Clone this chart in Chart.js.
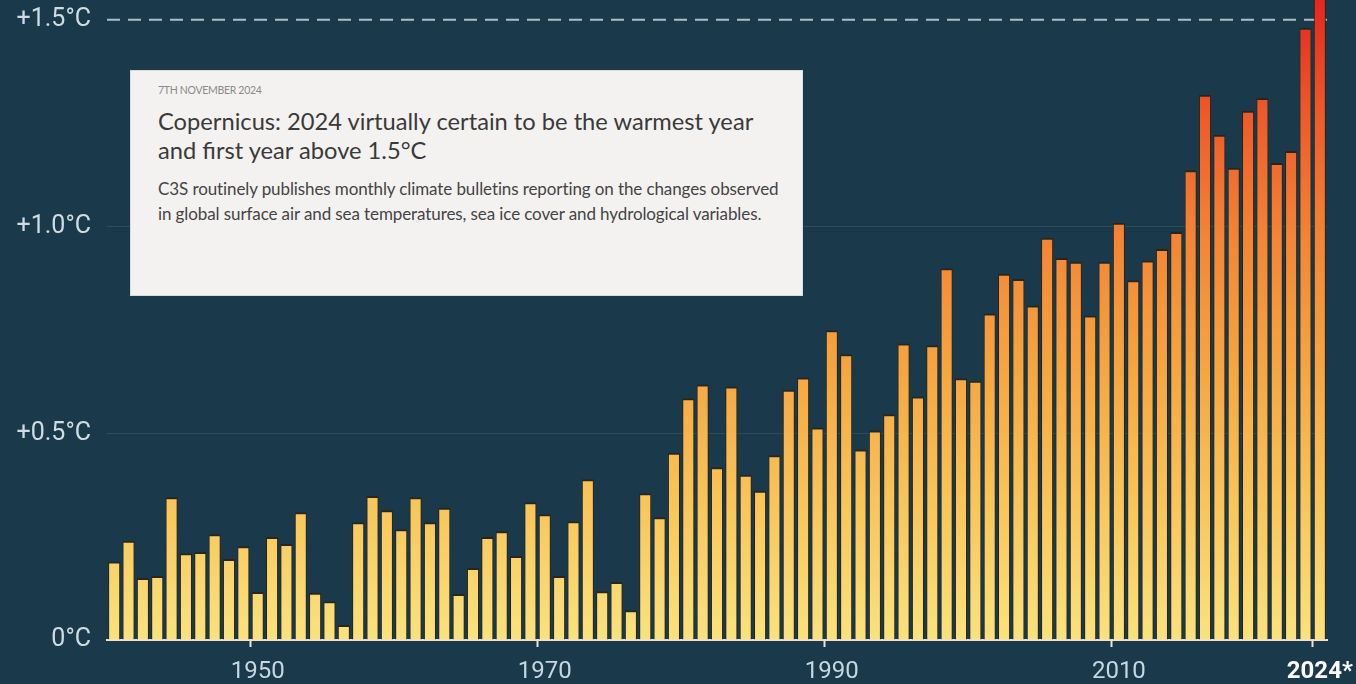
<!DOCTYPE html>
<html>
<head>
<meta charset="utf-8">
<script src="https://cdn.jsdelivr.net/npm/chart.js@4"></script>
<style>
  html, body { margin: 0; padding: 0; background: #1a3a4c; }
  #wrap { position: relative; width: 1356px; height: 684px; overflow: hidden; }
  #card {
    position: absolute; left: 130px; top: 70px; width: 673px; height: 226px;
    box-sizing: border-box; background: #f4f2f1; border: 1px solid #d9d9d9;
    font-family: Lato, "Open Sans", sans-serif; color: #3b3b3b;
    padding: 13px 0 0 27px;
  }
  #card .date { font-size: 10.5px; color: #8a8a8a; letter-spacing: -0.3px; }
  #card h1 { margin: 11px 0 0 0; font-weight: 400; font-size: 23.7px; line-height: 29px; color: #3a3a3a; }
  #card p { margin: 11px 0 0 0; font-size: 17px; line-height: 25px; color: #444; letter-spacing: -0.1px; }
</style>
</head>
<body>
<div id="wrap">
  <canvas id="chart" width="1356" height="684"></canvas>
  <div id="card">
    <div class="date">7TH NOVEMBER 2024</div>
    <h1>Copernicus: 2024 virtually certain to be the warmest year<br>and first year above 1.5°C</h1>
    <p>C3S routinely publishes monthly climate bulletins reporting on the changes observed<br>in global surface air and sea temperatures, sea ice cover and hydrological variables.</p>
  </div>
</div>
<script>
const years = [
  '1940','1941','1942','1943','1944','1945','1946','1947','1948','1949',
  '1950','1951','1952','1953','1954','1955','1956','1957','1958','1959',
  '1960','1961','1962','1963','1964','1965','1966','1967','1968','1969',
  '1970','1971','1972','1973','1974','1975','1976','1977','1978','1979',
  '1980','1981','1982','1983','1984','1985','1986','1987','1988','1989',
  '1990','1991','1992','1993','1994','1995','1996','1997','1998','1999',
  '2000','2001','2002','2003','2004','2005','2006','2007','2008','2009',
  '2010','2011','2012','2013','2014','2015','2016','2017','2018','2019',
  '2020','2021','2022','2023','2024'
];

// anomaly in °C
const anomaly = [
  0.19, 0.24, 0.15, 0.155, 0.345, 0.21, 0.213, 0.256, 0.196, 0.227,
  0.116, 0.249, 0.232, 0.309, 0.114, 0.094, 0.036, 0.285, 0.348, 0.314,
  0.268, 0.345, 0.285, 0.32, 0.111, 0.174, 0.249, 0.263, 0.203, 0.333,
  0.304, 0.155, 0.287, 0.389, 0.118, 0.14, 0.072, 0.355, 0.297, 0.453,
  0.585, 0.618, 0.418, 0.613, 0.4, 0.361, 0.447, 0.605, 0.635, 0.514,
  0.749, 0.691, 0.461, 0.507, 0.546, 0.717, 0.589, 0.713, 0.899, 0.633,
  0.627, 0.79, 0.886, 0.873, 0.809, 0.973, 0.924, 0.915, 0.785, 0.915,
  1.009, 0.87, 0.918, 0.946, 0.987, 1.136, 1.319, 1.222, 1.142, 1.28,
  1.311, 1.154, 1.183, 1.481, 1.60
];

const tickYears = ['1950', '1970', '1990', '2010', '2024'];
const tickText = ['1950', '1970', '1990', '2010', '2024*'];

const yTicks = [0, 0.5, 1.0, 1.5];
const yTickText = ['0°C', '+0.5°C', '+1.0°C', '+1.5°C'];

const limitLine = 1.5;

let barGradient = null;
function getGradient(chart) {
  const area = chart.chartArea;
  if (!area || !isFinite(area.top) || !isFinite(area.bottom)) return '#f6a040';
  if (barGradient) return barGradient;
  const g = chart.ctx.createLinearGradient(0, area.bottom, 0, area.top);
  g.addColorStop(0, '#fbe27c');
  g.addColorStop(0.22, '#f9c458');
  g.addColorStop(0.42, '#f6a640');
  g.addColorStop(0.62, '#f48634');
  g.addColorStop(0.82, '#ef5a28');
  g.addColorStop(1, '#e4281c');
  barGradient = g;
  return g;
}

const dashedLimit = {
  id: 'dashedLimit',
  beforeDatasetsDraw(chart) {
    const { ctx, chartArea, scales } = chart;
    const yPx = scales.y.getPixelForValue(limitLine);
    ctx.save();
    ctx.strokeStyle = '#b0bec5';
    ctx.lineWidth = 2;
    ctx.setLineDash([13, 8]);
    ctx.beginPath();
    ctx.moveTo(chartArea.left, yPx);
    ctx.lineTo(chartArea.right, yPx);
    ctx.stroke();
    ctx.restore();
  }
};

new Chart(document.getElementById('chart'), {
  type: 'bar',
  data: {
    labels: years,
    datasets: [{
      data: anomaly,
      backgroundColor: (ctx) => getGradient(ctx.chart),
      borderColor: '#2b2519',
      borderWidth: { top: 2, left: 1, right: 1, bottom: 0 },
      borderSkipped: 'bottom',
      barPercentage: 0.84,
      categoryPercentage: 1.0
    }]
  },
  plugins: [dashedLimit],
  options: {
    responsive: false,
    animation: false,
    layout: { padding: { top: 0, right: 29, bottom: 0, left: 0 } },
    plugins: {
      legend: { display: false },
      tooltip: { enabled: false }
    },
    scales: {
      x: {
        offset: true,
        border: { display: true, color: '#ece3cf', width: 2 },
        grid: {
          drawOnChartArea: false,
          drawTicks: true,
          tickLength: 7,
          tickWidth: 2,
          tickColor: (ctx) => tickYears.includes(years[ctx.index]) ? '#ece3cf' : 'rgba(0,0,0,0)'
        },
        ticks: {
          autoSkip: false,
          maxRotation: 0,
          padding: 11,
          font: (ctx) => ({
            family: 'Roboto',
            size: 24,
            weight: years[ctx.index] === '2024' ? 'bold' : 'normal'
          }),
          color: (ctx) => years[ctx.index] === '2024' ? '#ffffff' : '#c6d7df',
          callback: function (value, index) {
            const i = tickYears.indexOf(years[index]);
            return i >= 0 ? tickText[i] : '';
          }
        },
        afterFit: (scale) => {
          scale.height = 44;
          scale.paddingLeft = 0;
          scale.paddingRight = 0;
        }
      },
      y: {
        min: 0,
        max: 1.548,
        border: { display: false },
        afterBuildTicks: (scale) => {
          scale.ticks = yTicks.map((v) => ({ value: v }));
        },
        grid: {
          drawTicks: false,
          lineWidth: 1,
          color: (ctx) => {
            const v = ctx.tick ? ctx.tick.value : null;
            return (v === 0.5 || v === 1.0) ? 'rgba(255,255,255,0.09)' : 'rgba(0,0,0,0)';
          }
        },
        ticks: {
          padding: 16,
          font: { family: 'Roboto', size: 25 },
          color: '#d0dce2',
          callback: function (value) {
            const i = yTicks.indexOf(value);
            return i >= 0 ? yTickText[i] : '';
          }
        },
        afterFit: (scale) => {
          scale.width = 107;
          scale.paddingTop = 0;
          scale.paddingBottom = 0;
        }
      }
    }
  }
});
</script>
</body>
</html>
